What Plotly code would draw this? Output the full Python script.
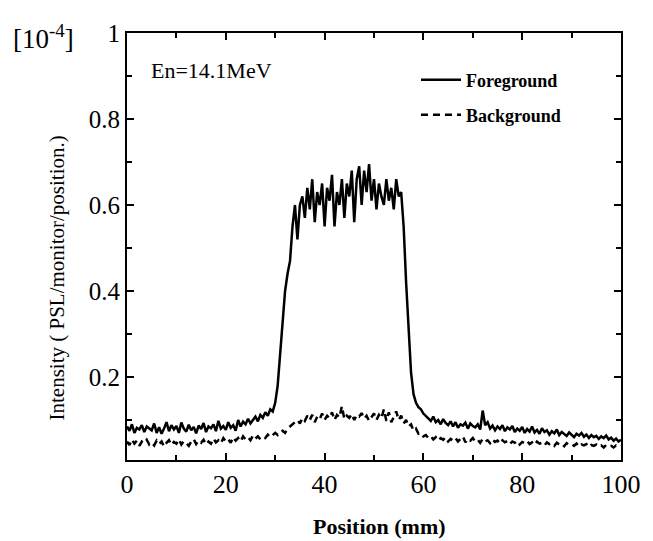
import plotly.graph_objects as go

# sampling grid (mm)
position = [i * 0.5 for i in range(201)]

foreground = [
    0.085, 0.075, 0.09, 0.07, 0.082, 0.078, 0.088, 0.072, 0.085, 0.08,
    0.076, 0.092, 0.07, 0.083, 0.068, 0.08, 0.095, 0.074, 0.088, 0.078,
    0.086, 0.07, 0.094, 0.08, 0.073, 0.089, 0.076, 0.084, 0.069, 0.087,
    0.079, 0.093, 0.072, 0.085, 0.081, 0.09, 0.074, 0.098, 0.08, 0.086,
    0.077, 0.095, 0.082, 0.088, 0.075, 0.1, 0.085, 0.096, 0.09, 0.103,
    0.092,
    0.1, 0.108, 0.097, 0.112, 0.105, 0.118, 0.11, 0.125, 0.12, 0.14,
    0.18, 0.25, 0.33, 0.4, 0.44, 0.47, 0.55, 0.6, 0.52, 0.6,
    0.62, 0.57, 0.64, 0.59, 0.66, 0.56, 0.63, 0.6, 0.65, 0.55,
    0.64, 0.61, 0.67, 0.55, 0.63, 0.6, 0.66, 0.57, 0.65, 0.62,
    0.68, 0.56, 0.66, 0.69, 0.6, 0.68, 0.63, 0.695, 0.61, 0.66,
    0.59, 0.65, 0.62, 0.6, 0.66, 0.61, 0.64, 0.59, 0.66, 0.62,
    0.63, 0.55, 0.42, 0.3, 0.21, 0.16, 0.14, 0.13, 0.125, 0.115,
    0.11, 0.104, 0.098, 0.108, 0.095, 0.1, 0.09, 0.102, 0.093, 0.088,
    0.097, 0.085, 0.095, 0.082, 0.09, 0.087, 0.094, 0.08, 0.092, 0.086,
    0.083, 0.09, 0.078, 0.122, 0.088, 0.095, 0.08, 0.087, 0.076, 0.085,
    0.079, 0.088, 0.074, 0.083, 0.078, 0.086, 0.072, 0.08, 0.075, 0.084,
    0.07, 0.079, 0.073, 0.085, 0.071, 0.077, 0.068, 0.081, 0.072, 0.076,
    0.066, 0.074, 0.069, 0.078, 0.065, 0.072, 0.068, 0.063, 0.071, 0.066,
    0.06, 0.068, 0.064, 0.07, 0.061, 0.066, 0.058, 0.065, 0.06, 0.063,
    0.056, 0.062, 0.058, 0.064, 0.055, 0.059, 0.052, 0.057, 0.05, 0.054,
]

background = [
    0.05, 0.042, 0.055, 0.045, 0.052, 0.04, 0.05, 0.046, 0.054, 0.043,
    0.048, 0.041, 0.052, 0.044, 0.05, 0.038, 0.047, 0.053, 0.042, 0.049,
    0.045, 0.055, 0.043, 0.051, 0.046, 0.04, 0.05, 0.056, 0.044, 0.052,
    0.047, 0.054, 0.043, 0.05, 0.045, 0.057, 0.048, 0.053, 0.046, 0.058,
    0.05, 0.055, 0.047, 0.06, 0.052, 0.058, 0.05, 0.062, 0.055, 0.06,
    0.053,
    0.064, 0.057, 0.062, 0.055, 0.06, 0.058, 0.066, 0.06, 0.064, 0.07,
    0.065, 0.072, 0.075, 0.07, 0.08, 0.085, 0.09, 0.095, 0.1, 0.092,
    0.105, 0.098, 0.11, 0.1, 0.112, 0.095, 0.108, 0.102, 0.115, 0.1,
    0.11, 0.104, 0.118, 0.1, 0.112, 0.106, 0.132, 0.102, 0.11, 0.105,
    0.114, 0.1, 0.112, 0.108, 0.116, 0.103, 0.11, 0.098, 0.108, 0.115,
    0.1, 0.112, 0.104, 0.125, 0.098, 0.118, 0.095, 0.108, 0.12, 0.1,
    0.11, 0.092, 0.1, 0.085, 0.09, 0.075, 0.08, 0.068, 0.07, 0.062,
    0.065, 0.058, 0.062, 0.055, 0.06, 0.052, 0.058, 0.054, 0.06, 0.05,
    0.056, 0.052, 0.058, 0.05, 0.055, 0.062, 0.048, 0.056, 0.052, 0.058,
    0.05, 0.054, 0.047, 0.056, 0.05, 0.053, 0.046, 0.055, 0.049, 0.052,
    0.045, 0.053, 0.048, 0.051, 0.044, 0.05, 0.047, 0.052, 0.043, 0.049,
    0.046, 0.051, 0.044, 0.048, 0.042, 0.05, 0.045, 0.047, 0.041, 0.048,
    0.044, 0.046, 0.04, 0.047, 0.043, 0.045, 0.039, 0.046, 0.042, 0.044,
    0.04, 0.045, 0.038, 0.043, 0.041, 0.044, 0.037, 0.042, 0.04, 0.043,
    0.038, 0.041, 0.036, 0.042, 0.039, 0.04, 0.036, 0.041, 0.038, 0.04,
]

x_ticks = [0, 20, 40, 60, 80, 100]
x_minor = [10, 30, 50, 70, 90]
y_ticks = [0.2, 0.4, 0.6, 0.8, 1]
y_tick_labels = ["0.2", "0.4", "0.6", "0.8", "1"]
y_minor = [0.1, 0.3, 0.5, 0.7, 0.9]

FONT = "Liberation Serif"

fig = go.Figure()
fig.add_trace(go.Scatter(
    x=position, y=foreground, mode="lines", name="<b>Foreground</b>",
    line=dict(color="black", width=2.5), legend="legend"))
fig.add_trace(go.Scatter(
    x=position, y=background, mode="lines", name="<b>Background</b>",
    line=dict(color="black", width=2.5, dash="7px,5px"), legend="legend2"))

axis_common = dict(
    showgrid=False, zeroline=False, showline=True, linecolor="black",
    linewidth=2, mirror="ticks", ticks="inside", ticklen=7, tickwidth=2,
    tickcolor="black",
)

fig.update_layout(
    width=653, height=541,
    margin=dict(l=127, r=25, t=33, b=81),
    paper_bgcolor="white", plot_bgcolor="white",
    font=dict(family=FONT, color="black"),
    showlegend=True,
    legend=dict(x=0.585, y=0.89, xanchor="left", yanchor="middle",
                bgcolor="rgba(0,0,0,0)", font=dict(size=18, family=FONT),
                itemwidth=40),
    legend2=dict(x=0.585, y=0.808, xanchor="left", yanchor="middle",
                 bgcolor="rgba(0,0,0,0)", font=dict(size=18, family=FONT),
                 itemwidth=40),
    xaxis=dict(
        range=[0, 100], tickvals=x_ticks, ticktext=[str(v) for v in x_ticks],
        tickfont=dict(size=26, family=FONT),
        minor=dict(tickvals=x_minor, ticks="inside", ticklen=5,
                   tickcolor="black", tickwidth=2),
        **axis_common),
    yaxis=dict(
        range=[0.007, 1], tickvals=y_ticks, ticktext=y_tick_labels,
        tickfont=dict(size=25, family=FONT),
        minor=dict(tickvals=y_minor, ticks="inside",
                   ticklen=5, tickcolor="black", tickwidth=2),
        **axis_common),
    annotations=[
        dict(text="[10<sup>-4</sup>]", xref="paper", yref="paper",
             x=-0.235, y=0.99, xanchor="left", yanchor="middle",
             showarrow=False, font=dict(size=27, family=FONT)),
        dict(text="En=14.1MeV", xref="paper", yref="paper",
             x=0.045, y=0.913, xanchor="left", yanchor="middle",
             showarrow=False, font=dict(size=22, family=FONT)),
        dict(text="Intensity ( PSL/monitor/position.)", xref="paper",
             yref="paper", x=-0.142, y=0.427, xanchor="center",
             yanchor="middle", textangle=-90, showarrow=False,
             font=dict(size=21, family=FONT)),
        dict(text="<b>Position (mm)</b>", xref="paper", yref="paper",
             x=0.511, y=-0.155, xanchor="center", yanchor="middle",
             showarrow=False, font=dict(size=22, family=FONT)),
    ],
)

fig.write_html("out.html")
